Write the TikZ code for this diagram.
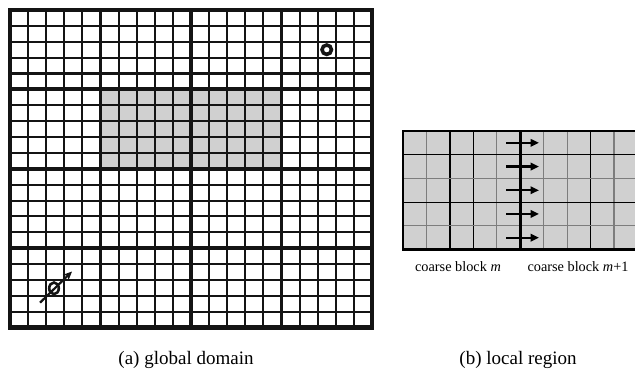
\documentclass[tikz,border=0pt]{standalone}
\usepackage{fontspec}
\setmainfont{Liberation Serif}
\usetikzlibrary{arrows.meta}
\definecolor{cellgray}{RGB}{208,208,208}
\definecolor{linegray}{RGB}{125,125,125}
\tikzset{
  fineline/.style={line width=2.1pt, black!92},
  coarseline/.style={line width=3.9pt, black!92},
  borderline/.style={line width=4.4pt, black!92},
  thinline/.style={line width=1.2pt},
  flux/.style={line width=2.2pt, -{Triangle[length=8.5pt,width=7.5pt]}},
  blocklabel/.style={font=\fontsize{14.3}{16}\selectfont, inner sep=0pt},
  captext/.style={font=\fontsize{19}{22}\selectfont, inner sep=0pt}
}
\begin{document}
\begin{tikzpicture}[x=1pt,y=-1pt]
\useasboundingbox (0,0) rectangle (635,381);
\begin{scope}
\clip (0,0) rectangle (635,381);

% ---- global domain: 4x4 coarse blocks of 5x5 fine cells ----
\fill[cellgray] (100.5,89.4) rectangle (281.5,168.8);
\foreach \i in {1,...,19}{
  \draw[fineline] ({10+\i*18.1},10) -- ({10+\i*18.1},327.6);
  \draw[fineline] (10,{10+\i*15.88}) -- (372,{10+\i*15.88});
}
\foreach \i in {1,2,3}{
  \draw[coarseline] ({10+\i*90.5},10) -- ({10+\i*90.5},327.6);
  \draw[coarseline] (10,{10+\i*79.4}) -- (372,{10+\i*79.4});
}
\draw[borderline] (10,10) rectangle (372,327.6);

% point source and moving particle
\draw[line width=3.6pt, black!92] (326.75,49.7) circle[radius=4.7pt];
\draw[line width=2.6pt, black!92] (54,288.3) ellipse[x radius=4.8pt, y radius=5.8pt];
\draw[line width=2.2pt, black!92, -{Stealth[length=9pt,width=8pt]}] (40,302.7) -- (72,271.5);

% ---- local region across a coarse-block interface ----
\fill[cellgray] (403,131) rectangle (645,249.5);
\foreach \i/\c in {1/linegray,2/black,3/black,4/linegray,6/linegray,7/linegray,8/black,9/linegray}{
  \draw[thinline, \c] ({403+\i*23.45},131) -- ({403+\i*23.45},249.5);
}
\foreach \j/\c in {1/black,2/linegray,3/black,4/linegray}{
  \draw[thinline, \c] (403,{131+\j*23.7}) -- (645,{131+\j*23.7});
}
\draw[line width=2.8pt] (403,131) rectangle (645,249.5);
\draw[line width=2.4pt] (520.3,131) -- (520.3,249.5);
\foreach \j in {0,...,4}{
  \draw[flux] (506,{131+(\j+0.5)*23.7}) -- (539,{131+(\j+0.5)*23.7});
}
\end{scope}

% ---- labels ----
\node[blocklabel] (blockm) at (458,267) {coarse block \textit{m}};
\node[blocklabel] (blockmp) at (578,267) {coarse block \textit{m}+1};
\node[captext] (capa) at (186,360) {(a) global domain};
\node[captext] (capb) at (518,360) {(b) local region};
\end{tikzpicture}
\end{document}
